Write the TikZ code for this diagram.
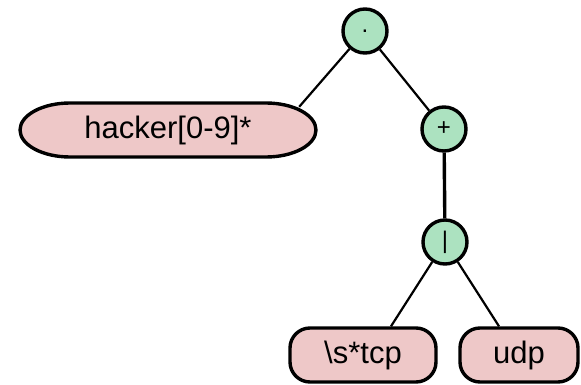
\documentclass[tikz,border=0pt]{standalone}
\usepackage{fontspec}
\setmainfont{Liberation Sans}
\definecolor{leafpink}{RGB}{238,200,200}
\definecolor{opgreen}{RGB}{172,226,192}
\begin{document}
\begin{tikzpicture}[x=1pt,y=1pt,
  op/.style={circle, draw=black, line width=3.4pt, fill=opgreen, minimum size=44pt, inner sep=0pt, font=\fontsize{24}{26}\selectfont},
  leaf/.style={draw=black, line width=3.4pt, fill=leafpink, rounded corners=20pt, minimum height=54pt, inner sep=0pt, font=\fontsize{31}{34}\selectfont},
  outline/.style={draw=black, line width=3.4pt, fill=leafpink},
  edge/.style={line width=2.2pt}]
\useasboundingbox (0,0) rectangle (581,384);
\fill[white] (0,0) rectangle (581,384);
% operator nodes
\node[op] (root) at (365,353) {.};
\node[op] (plus) at (444,255) {+};
\node[op] (bar)  at (445,142) {|};
% left leaf: flat top and bottom with elliptical ends
\path[outline] (70,281) -- (266,281) arc[start angle=90, end angle=-90, x radius=50, y radius=27]
  -- (70,227) arc[start angle=270, end angle=90, x radius=50, y radius=27] -- cycle;
\node[font=\fontsize{31}{34}\selectfont, minimum width=296pt, minimum height=54pt, inner sep=0pt] (hack) at (168,254) {hacker[0-9]*};
% lower leaves
\node[leaf, minimum width=146pt] (tcp)  at (363,29) {\textbackslash s*tcp};
\node[leaf, minimum width=118pt] (udp)  at (519,29) {udp};
% attachment points on the leaf outlines
\coordinate (hackin) at ([xshift=-17pt,yshift=-4pt]hack.north east);
\coordinate (tcpin)  at ([xshift=28pt]tcp.north);
\coordinate (udpin)  at ([xshift=-20pt]udp.north);
% tree edges
\draw[edge] (root) -- (hackin);
\draw[edge] (root) -- (plus);
\draw[line width=3.4pt] (plus) -- (bar);
\draw[edge] (bar) -- (tcpin);
\draw[edge] (bar) -- (udpin);
\end{tikzpicture}
\end{document}
